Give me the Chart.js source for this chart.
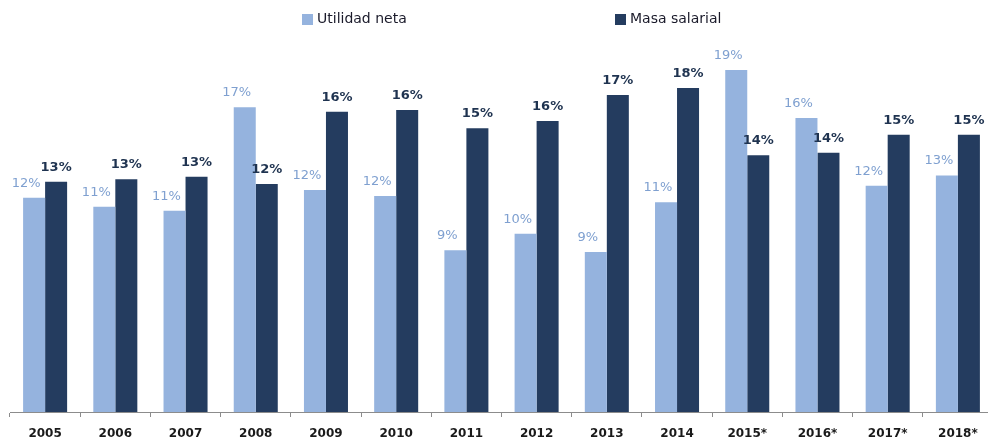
<!DOCTYPE html>
<html lang="es">

<head>
    <meta charset="UTF-8">
    <title>Utilidad neta y masa salarial</title>
    <script src="https://cdn.jsdelivr.net/npm/chart.js"></script>
    <style>
        body {
            margin: 0;
            background: #ffffff;
            overflow: hidden;
        }

        .container {
            width: 1003px;
            height: 443px;
        }
    </style>
</head>

<body>
    <div class="container">
        <canvas id="chart"></canvas>
    </div>

    <script>
        const years = ['2005', '2006', '2007', '2008', '2009', '2010', '2011',
            '2012', '2013', '2014', '2015*', '2016*', '2017*', '2018*'];

        // % estimados a partir de la altura de las barras
        const utilidadNeta = [11.65, 11.16, 10.94, 16.56, 12.07, 11.74, 8.79,
            9.69, 8.70, 11.40, 18.59, 15.98, 12.30, 12.86];
        const masaSalarial = [12.52, 12.65, 12.79, 12.39, 16.32, 16.41, 15.42,
            15.82, 17.23, 17.61, 13.95, 14.09, 15.07, 15.07];

        const seriesNames = ['Utilidad neta', 'Masa salarial'];

        const lightBlue = '#95b3de';
        const darkBlue = '#243c5f';

        // etiquetas de valor sobre las barras
        const valueLabels = {
            id: 'valueLabels',
            afterDatasetsDraw(chart) {
                const ctx = chart.ctx;
                ctx.save();
                ctx.textAlign = 'center';
                ctx.textBaseline = 'bottom';
                chart.data.datasets.forEach((ds, i) => {
                    const meta = chart.getDatasetMeta(i);
                    if (i === 0) {
                        ctx.font = '13px "DejaVu Sans"';
                        ctx.fillStyle = '#7fa0d0';
                    } else {
                        ctx.font = 'bold 13px "DejaVu Sans"';
                        ctx.fillStyle = '#1f3350';
                    }
                    meta.data.forEach((bar, j) => {
                        const txt = Math.round(ds.data[j]) + '%';
                        const dx = i === 0 ? -8 : 0;
                        ctx.fillText(txt, bar.x + dx, bar.y - 8);
                    });
                });
                ctx.restore();
            }
        };

        // leyenda arriba, separada como en el original
        const topLegend = {
            id: 'topLegend',
            afterDraw(chart) {
                const ctx = chart.ctx;
                const items = [
                    { x: 302, color: lightBlue, text: seriesNames[0] },
                    { x: 615, color: darkBlue, text: seriesNames[1] }
                ];
                ctx.save();
                ctx.font = '14px "DejaVu Sans"';
                ctx.textBaseline = 'middle';
                ctx.textAlign = 'left';
                items.forEach(it => {
                    ctx.fillStyle = it.color;
                    ctx.fillRect(it.x, 14, 11, 11);
                    ctx.fillStyle = '#1a1a2a';
                    ctx.fillText(it.text, it.x + 15, 19);
                });
                ctx.restore();
            }
        };

        const ctx = document.getElementById('chart').getContext('2d');
        new Chart(ctx, {
            type: 'bar',
            data: {
                labels: years,
                datasets: [{
                    label: seriesNames[0],
                    data: utilidadNeta,
                    backgroundColor: lightBlue,
                    barPercentage: 1,
                    categoryPercentage: 0.627
                }, {
                    label: seriesNames[1],
                    data: masaSalarial,
                    backgroundColor: darkBlue,
                    barPercentage: 1,
                    categoryPercentage: 0.627
                }]
            },
            options: {
                responsive: true,
                maintainAspectRatio: false,
                animation: false,
                layout: {
                    padding: { top: 44, left: 10, right: 10, bottom: 3 }
                },
                plugins: {
                    legend: { display: false },
                    tooltip: { enabled: false }
                },
                scales: {
                    x: {
                        afterFit(scale) {
                            scale.height = 28;
                        },
                        grid: {
                            display: true,
                            drawOnChartArea: false,
                            drawTicks: true,
                            tickLength: 5,
                            color: '#8c8c8c'
                        },
                        border: { color: '#8c8c8c', width: 1 },
                        ticks: {
                            color: '#1a1a1a',
                            padding: 10,
                            font: { family: 'DejaVu Sans', size: 12, weight: 'bold' }
                        }
                    },
                    y: {
                        display: false,
                        min: 0,
                        max: 20
                    }
                }
            },
            plugins: [valueLabels, topLegend]
        });
    </script>
</body>

</html>
